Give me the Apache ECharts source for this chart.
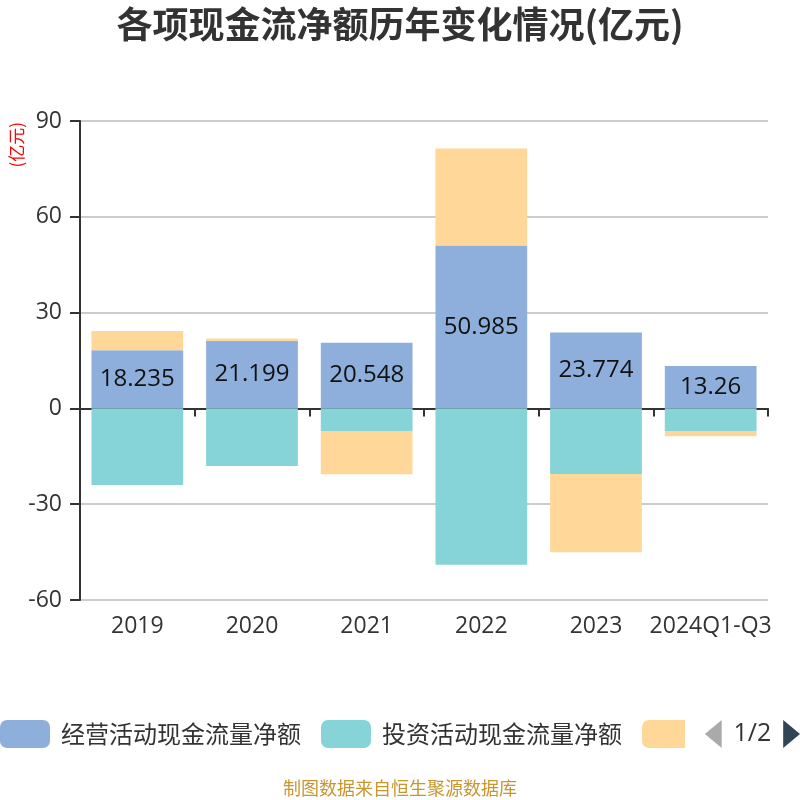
<!DOCTYPE html>
<html><head><meta charset="utf-8">
<script src="https://cdn.jsdelivr.net/npm/echarts@6/dist/echarts.min.js"></script>
<style>html,body{margin:0;padding:0;background:#fff}#c{width:800px;height:800px}</style>
</head><body><div id="c"></div>
<script>
var categories = ['2019','2020','2021','2022','2023','2024Q1-Q3'];
var operating = [18.235, 21.199, 20.548, 50.985, 23.774, 13.26];
var investing = [-24.0, -18.05, -7.1, -49.0, -20.55, -7.1];
var financing = [6.0, 0.7, -13.55, 30.4, -24.5, -1.6];
var seriesNames = ['经营活动现金流量净额','投资活动现金流量净额','筹资活动现金流量净额'];
var yTicks = {min: -60, max: 90, interval: 30};
var FONT = '"Noto Sans CJK SC", "Noto Sans", sans-serif';
var NUMFONT = '"Open Sans", "Noto Sans CJK SC", sans-serif';
var chart = echarts.init(document.getElementById('c'));
chart.setOption({
  animation: false,
  textStyle: {fontFamily: FONT},
  color: ['#8eaedb','#86d4d8','#ffd899'],
  title: {text: '各项现金流净额历年变化情况(亿元)', left: 'center', top: 1,
    textStyle: {fontSize: 36, fontWeight: 'bold', color: '#333', fontFamily: FONT}},
  graphic: [
    {type: 'text', left: 8, top: 122, rotation: Math.PI/2,
      style: {text: '(亿元)', fill: '#ff0000', fontSize: 17, fontFamily: FONT}},
    {type: 'text', left: 'center', top: 779,
      style: {text: '制图数据来自恒生聚源数据库', fill: '#c8962e', fontSize: 18, fontFamily: FONT}}
  ],
  legend: {type: 'scroll', left: 0, width: 800, top: 720, padding: 0, itemWidth: 50, itemHeight: 28, itemGap: 20,
    textStyle: {fontSize: 24, color: '#333', fontFamily: FONT, padding: [0, 0, 0, 6]},
    pageIconColor: '#2f4554', pageIconInactiveColor: '#aaa', pageIconSize: [17, 28],
    pageButtonItemGap: 0,
    pageTextStyle: {fontSize: 25, color: '#333', fontFamily: NUMFONT},
    data: seriesNames},
  grid: {left: 80, right: 32, top: 121, bottom: 200},
  xAxis: [
    {type: 'category', data: categories, position: 'bottom',
      axisLine: {show: false, onZero: false}, axisTick: {show: false},
      axisLabel: {fontSize: 23, color: '#333', margin: 15, interval: 0, fontFamily: NUMFONT}},
    {type: 'category', data: categories, position: 'bottom',
      axisLine: {show: true, onZero: true, lineStyle: {color: '#333', width: 2}},
      axisTick: {show: true, length: 8, lineStyle: {color: '#333', width: 2}},
      axisLabel: {show: false}}
  ],
  yAxis: {type: 'value', min: yTicks.min, max: yTicks.max, interval: yTicks.interval,
    axisLine: {show: true, lineStyle: {color: '#333', width: 2}},
    axisTick: {show: true, length: 10, lineStyle: {color: '#333', width: 2}},
    axisLabel: {fontSize: 23, color: '#333', margin: 18, fontFamily: NUMFONT},
    splitLine: {lineStyle: {color: '#ccc', width: 2}}},
  series: [
    {name: seriesNames[0], type: 'bar', stack: 'a', data: operating, barWidth: '80%',
      label: {show: true, position: 'inside', fontSize: 24, color: '#111', fontFamily: NUMFONT}},
    {name: seriesNames[1], type: 'bar', stack: 'a', data: investing, barWidth: '80%'},
    {name: seriesNames[2], type: 'bar', stack: 'a', data: financing, barWidth: '80%'}
  ]
});
</script></body></html>
